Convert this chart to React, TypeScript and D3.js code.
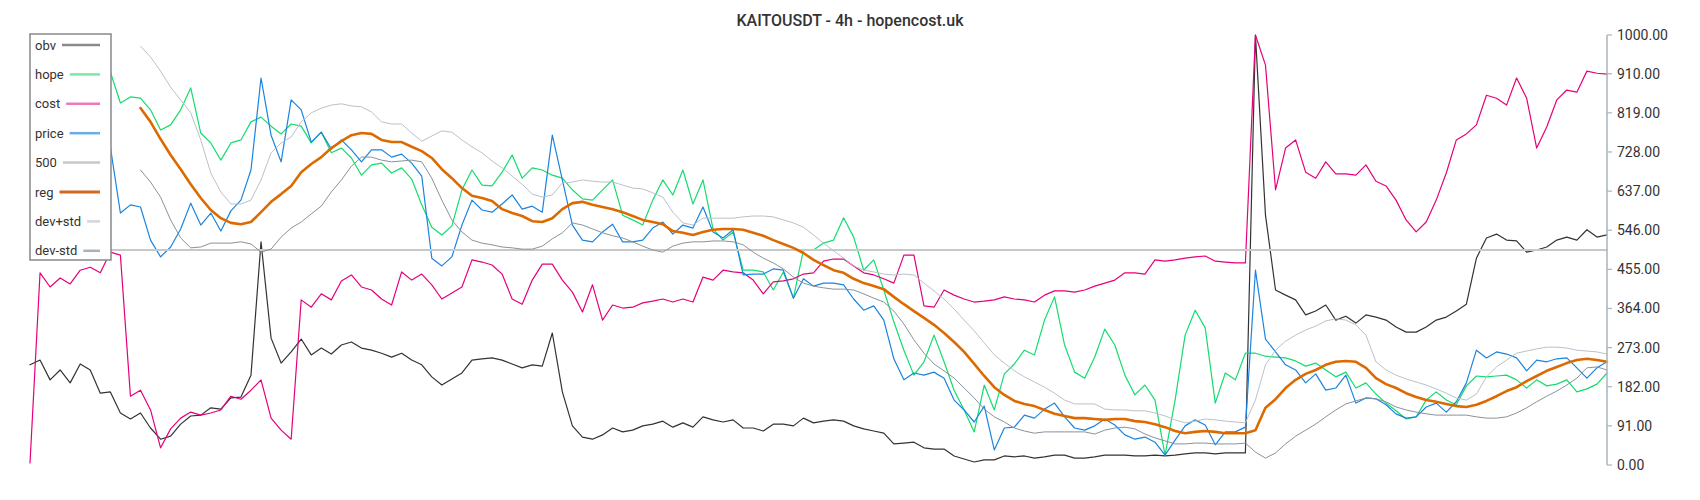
import React, { useMemo } from "react";
import * as d3 from "d3";

const TITLE = "KAITOUSDT - 4h - hopencost.uk";
const yTicks = [0, 91, 182, 273, 364, 455, 546, 637, 728, 819, 910, 1000];
const seriesNames = ["obv", "hope", "cost", "price", "500", "reg", "dev+std", "dev-std"];

const obv = [
  233,244,198,221,191,235,221,167,170,121,
  107,121,86,60,67,95,114,116,133,130,
  156,158,209,519,295,237,263,293,256,272,
  258,279,286,272,267,260,251,260,244,233,
  205,186,200,214,244,247,249,244,235,226,
  233,230,307,170,91,65,60,70,86,77,
  81,91,95,102,88,98,88,112,105,100,
  105,86,86,79,95,95,91,109,98,102,
  105,102,91,84,79,74,49,51,53,40,
  37,37,21,14,7,12,12,21,19,21,
  16,19,23,23,16,16,19,23,23,23,
  21,21,23,21,23,26,28,28,26,28,
  28,28,1000,581,407,395,384,349,358,372,
  337,346,330,349,344,337,321,309,309,321,
  337,344,358,374,481,528,537,523,521,495,
  500,507,523,530,523,547,530,535,
];

const hope = [
  900,880,910,870,860,890,870,900,914,842,
  856,853,826,779,791,826,877,772,749,709,
  749,756,798,809,788,770,793,788,749,774,
  726,737,714,674,698,702,679,691,665,605,
  553,535,556,640,686,651,649,681,721,667,
  691,686,674,667,640,619,616,640,663,581,
  570,558,616,663,628,686,607,663,549,523,
  542,453,453,449,407,449,388,500,500,516,
  523,575,530,453,477,407,333,267,209,240,
  302,240,174,128,77,186,128,212,235,267,
  256,337,391,279,216,202,251,316,279,209,
  163,186,151,23,151,302,360,319,144,214,
  198,260,260,253,251,249,242,230,237,221,
  205,216,179,191,165,144,126,107,112,151,
  170,151,140,184,207,205,207,209,198,179,
  198,184,188,198,170,177,188,214,
];

const cost = [
  5,447,414,435,421,453,460,447,495,488,
  160,174,128,40,84,109,123,116,121,128,
  160,153,174,198,109,81,60,384,367,398,
  384,428,442,414,407,386,372,449,430,444,
  419,386,400,414,477,472,465,444,386,374,
  430,467,467,430,402,356,419,337,372,365,
  367,377,381,386,379,386,379,437,430,453,
  449,447,430,398,426,428,433,444,447,474,
  479,479,463,447,442,433,423,488,488,370,
  367,407,395,386,379,381,384,391,386,384,
  379,395,405,405,402,407,416,423,430,447,
  447,444,477,474,477,481,484,486,474,472,
  470,470,1000,930,640,737,756,681,667,705,
  677,677,674,698,660,649,616,570,542,565,
  616,679,756,770,791,860,853,837,900,853,
  737,786,849,872,867,916,911,909,
];

const price = [
  1000,985,950,940,970,1000,960,860,740,586,
  605,600,523,484,507,549,609,558,586,544,
  591,616,686,900,767,705,849,826,751,774,
  735,756,733,705,733,733,716,723,702,672,
  481,463,484,558,616,593,588,607,628,595,
  602,588,767,663,558,523,519,542,560,519,
  519,523,551,565,537,558,551,600,542,528,
  547,442,444,444,456,453,388,433,416,423,
  423,419,386,360,370,337,247,198,214,209,
  216,202,151,128,100,137,35,86,88,116,
  109,130,144,112,86,81,91,107,93,70,
  60,65,53,23,58,91,105,93,47,77,
  77,88,453,293,263,233,221,191,212,174,
  179,209,144,156,154,140,119,109,112,135,
  144,123,147,191,267,249,263,258,249,219,
  244,240,247,249,226,202,226,240,
];

const line500 = 500;

const reg = [
  null,null,null,null,null,null,null,null,null,null,null,
  830,798,758,721,688,653,621,593,574,
  563,560,565,588,612,630,649,681,700,716,
  737,753,767,772,770,756,751,751,740,730,
  714,688,667,644,626,621,614,595,586,579,
  567,565,574,595,609,612,605,600,595,588,
  579,570,565,560,544,540,535,542,547,549,
  549,547,540,533,523,514,505,493,477,465,
  453,447,433,423,416,409,391,374,358,342,
  326,307,286,263,235,207,181,163,149,142,
  137,128,119,114,109,109,107,105,107,107,
  102,100,95,88,79,74,77,79,77,74,
  74,74,81,133,153,179,198,212,221,233,
  240,242,240,226,202,188,179,167,158,151,
  147,142,137,135,140,149,160,172,181,195,
  207,219,228,237,244,247,244,240,
];

const devPlus = [
  null,null,null,null,null,null,null,null,null,null,null,
  974,949,916,879,849,819,756,679,635,
  607,607,616,663,726,749,763,798,819,830,
  837,840,835,833,821,798,793,793,772,753,
  765,777,774,756,740,726,707,691,672,653,
  630,623,628,656,658,663,660,658,658,651,
  644,642,633,623,588,563,558,574,574,574,
  574,577,579,579,577,570,563,553,535,516,
  498,481,463,453,449,444,442,444,442,423,
  405,386,363,337,312,284,256,237,219,205,
  193,181,167,151,142,142,142,130,128,128,
  126,126,121,114,105,98,102,107,105,102,
  100,98,151,233,267,288,302,314,323,335,
  340,337,326,302,240,221,209,200,193,186,
  177,167,156,151,165,205,228,244,260,265,
  270,274,274,272,267,265,263,258,
];

const devMinus = [
  null,null,null,null,null,null,null,null,null,null,null,
  686,658,623,570,528,505,507,516,516,
  516,519,514,495,502,530,551,565,584,602,
  635,663,695,716,716,709,705,707,709,705,
  667,616,570,542,523,516,512,507,505,502,
  502,509,526,540,563,558,549,540,533,528,
  519,509,500,495,509,516,519,519,521,521,
  519,512,495,481,470,456,437,423,416,412,
  409,409,407,398,388,379,358,328,291,260,
  235,219,202,179,156,130,112,100,86,79,
  74,77,77,77,77,77,72,81,86,88,
  84,72,63,56,49,49,51,51,49,49,
  49,51,30,16,28,49,67,81,95,112,
  128,142,149,156,154,147,135,128,123,119,
  116,116,116,116,112,109,109,112,121,133,
  147,160,172,186,202,226,228,221,
];

const lineColors = ["#333333", "#14dc6e", "#e6007a", "#1a84e0", "#c8c8c8", "#dd6a00", "#b9c2ca", "#88939c"];
const lineWidths = [1.2, 1.2, 1.2, 1.2, 2, 2.6, 1, 1];
const legendColors = ["#8a8a8a", "#7ae8a6", "#ec7ab8", "#6aaee8", "#c8c8c8", "#d2691e", "#d2d6da", "#a9b2ba"];

const FONT = "Roboto, 'Noto Sans', sans-serif";

function measure(text: string, size: number) {
  try {
    const c = document.createElement("canvas");
    const ctx = c.getContext("2d");
    if (ctx) {
      ctx.font = `${size}px Roboto`;
      return ctx.measureText(text).width;
    }
  } catch (e) {}
  return text.length * size * 0.55;
}

export default function App() {
  const W = 1700, H = 500;
  const N = obv.length;
  const x = d3.scaleLinear().domain([0, N - 1]).range([30, 1607]);
  const y = d3.scaleLinear().domain([0, 1000]).range([465, 35]);

  const const500 = obv.map(() => line500);
  const allSeries = [obv, hope, cost, price, const500, reg, devPlus, devMinus];

  const lineGen = d3
    .line<number | null>()
    .defined((d) => d !== null && d !== undefined)
    .x((_, i) => x(i))
    .y((d) => y(d as number));

  const paths = allSeries.map((s) => lineGen(s as (number | null)[]) || "");

  const legendX = 30, legendY = 34, legendW = 81, legendH = 226;
  const itemY = (k: number) => 45 + 29.4 * k;

  const widths = useMemo(() => seriesNames.map((n) => measure(n, 13)), []);

  return (
    <svg
      width={W}
      height={H}
      style={{ position: "absolute", left: 0, top: 0, background: "#fff" }}
      fontFamily={FONT}
    >
      <rect x={0} y={0} width={W} height={H} fill="#ffffff" />
      <text x={850} y={20} textAnchor="middle" dominantBaseline="central" fontSize={16} fontWeight={500} fill="#333">
        {TITLE}
      </text>

      {paths.map((p, k) => (
        <path
          key={seriesNames[k]}
          d={p}
          fill="none"
          stroke={lineColors[k]}
          strokeWidth={lineWidths[k]}
          strokeLinejoin="round"
          strokeLinecap="round"
        />
      ))}

      {/* right axis */}
      <line x1={1607} x2={1607} y1={y(1000)} y2={y(0)} stroke="#aab4bb" strokeWidth={1.5} />
      {yTicks.map((t) => (
        <g key={t}>
          <line x1={1607} x2={1612} y1={y(t)} y2={y(t)} stroke="#aab4bb" strokeWidth={1.2} />
          <text x={1617} y={y(t)} dominantBaseline="central" fontSize={14} fill="#333">
            {t.toFixed(2)}
          </text>
        </g>
      ))}

      {/* legend */}
      <rect x={legendX} y={legendY} width={legendW} height={legendH} fill="#ffffff" stroke="#888" strokeWidth={1.5} />
      {seriesNames.map((n, k) => (
        <g key={n}>
          <text x={35} y={itemY(k)} dominantBaseline="central" fontSize={13} fill="#333">
            {n}
          </text>
          <line
            x1={35 + widths[k] + 6}
            x2={100}
            y1={itemY(k)}
            y2={itemY(k)}
            stroke={legendColors[k]}
            strokeWidth={n === "reg" ? 3 : 2.5}
          />
        </g>
      ))}
    </svg>
  );
}
